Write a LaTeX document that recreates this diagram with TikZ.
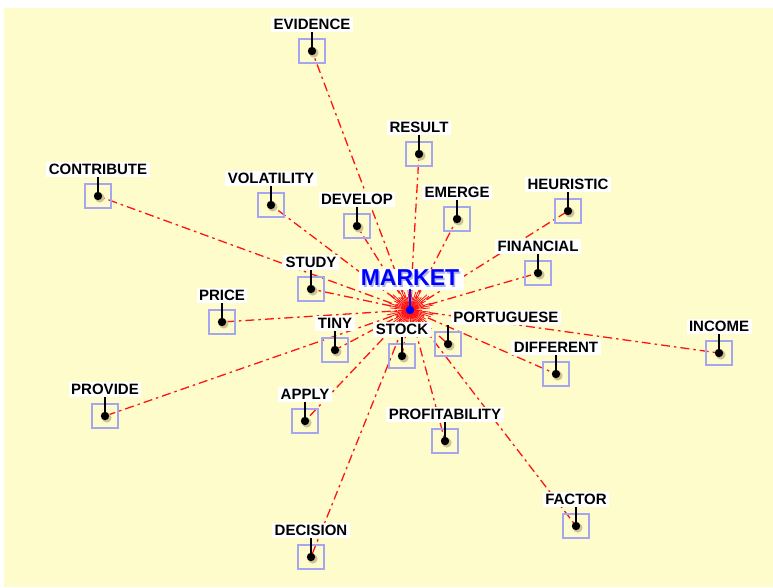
\documentclass[tikz,border=0pt]{standalone}
\usepackage{fontspec}
\setmainfont{Liberation Sans}
\usetikzlibrary{positioning,backgrounds}
\definecolor{paper}{RGB}{255,252,204}
\definecolor{framecol}{RGB}{165,165,240}
\definecolor{linkred}{RGB}{255,20,20}
\definecolor{dotshade}{RGB}{205,195,150}
\definecolor{hubshade}{RGB}{175,185,225}

\begin{document}
\begin{tikzpicture}[x=1pt,y=-1pt,
		term/.style={draw=framecol, line width=1.3pt, minimum width=26pt, minimum height=24pt, inner sep=0pt},
		word/.style={fill=white, font=\fontsize{15}{15}\selectfont\bfseries, inner xsep=2.5pt, inner ysep=2.5pt},
		hubword/.style={font=\fontsize{23}{23}\selectfont\bfseries, inner xsep=3.5pt, inner ysep=2.5pt},
		link/.style={linkred, line width=1.3pt, dash pattern=on 9pt off 4pt on 2.5pt off 4pt},
		stem/.style={black, line width=1.1pt},
		node distance=6pt]
		\useasboundingbox (0,0) rectangle (773,587);
		
		% word boxes
		\node[term] (evidence) at (312,51) {};
		\node[term] (result) at (419,154) {};
		\node[term] (contribute) at (98,196) {};
		\node[term] (volatility) at (271,205) {};
		\node[term] (develop) at (357,226) {};
		\node[term] (emerge) at (457,219) {};
		\node[term] (heuristic) at (568,211) {};
		\node[term] (financial) at (538,273) {};
		\node[term] (study) at (311,289) {};
		\node[term] (price) at (222,322) {};
		\node[term] (tiny) at (335,350) {};
		\node[term] (stock) at (402,356) {};
		\node[term] (portuguese) at (448,344) {};
		\node[term] (income) at (719,353) {};
		\node[term] (different) at (556,374) {};
		\node[term] (provide) at (105,416) {};
		\node[term] (apply) at (305,421) {};
		\node[term] (profitability) at (445,441) {};
		\node[term] (factor) at (576,526) {};
		\node[term] (decision) at (311,557) {};
		\coordinate (hub) at (410,310);
		
		% links to the hub
		\begin{scope}[on background layer]
			\fill[paper] (4,8) rectangle (773,587);
			\foreach \n in {evidence,result,contribute,volatility,develop,emerge,heuristic,financial,study,price,tiny,stock,portuguese,income,different,provide,apply,profitability,factor,decision}
			\draw[link] (hub) -- (\n.center);
		\end{scope}
		\foreach \a in {0,6,...,354}
		\draw[linkred, line width=0.8pt] (hub) -- ++(\a:{12pt+12pt*abs(sin(37*\a))});
		
		% labels
		\node[word, above=of evidence] (evidence-t) {EVIDENCE};
		\node[word, above=of result] (result-t) {RESULT};
		\node[word, above=of contribute] (contribute-t) {CONTRIBUTE};
		\node[word, above=of volatility] (volatility-t) {VOLATILITY};
		\node[word, above=of develop] (develop-t) {DEVELOP};
		\node[word, above=of emerge] (emerge-t) {EMERGE};
		\node[word, above=of heuristic] (heuristic-t) {HEURISTIC};
		\node[word, above=of financial] (financial-t) {FINANCIAL};
		\node[word, above=of study] (study-t) {STUDY};
		\node[word, above=of price] (price-t) {PRICE};
		\node[word, above=of tiny] (tiny-t) {TINY};
		\node[word, above=of stock] (stock-t) {STOCK};
		\node[word, above right=6pt and -11pt of portuguese] (portuguese-t) {PORTUGUESE};
		\node[word, above=of income] (income-t) {INCOME};
		\node[word, above=of different] (different-t) {DIFFERENT};
		\node[word, above=of provide] (provide-t) {PROVIDE};
		\node[word, above=of apply] (apply-t) {APPLY};
		\node[word, above=of profitability] (profitability-t) {PROFITABILITY};
		\node[word, above=of factor] (factor-t) {FACTOR};
		\node[word, above=of decision] (decision-t) {DECISION};
		
		% dots and stems
		\foreach \n in {evidence,result,contribute,volatility,develop,emerge,heuristic,financial,study,price,tiny,stock,portuguese,income,different,provide,apply,profitability,factor,decision}
		{
			\fill[dotshade] ([shift={(1.8pt,-1.8pt)}]\n.center) circle (4.8pt);
			\draw[stem] (\n.center) -- (\n.center |- \n-t.south);
			\fill (\n.center) circle (4.2pt);
		}
		
		% hub
		\node[hubword, fill=white, text=hubshade] (market-s) at (411.5,279.5) {MARKET};
		\node[hubword, text=blue] (market) at (410,278) {MARKET};
		\draw[blue, line width=1.2pt] (hub) -- (hub |- market.south);
		\fill[blue] (hub) circle (4.2pt);
		
\end{tikzpicture}
\end{document}
